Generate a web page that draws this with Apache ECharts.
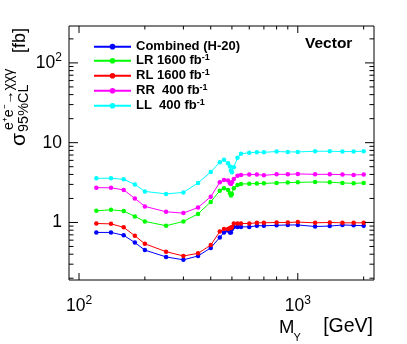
<!DOCTYPE html>
<html>
<head>
<meta charset="utf-8">
<script src="https://cdn.jsdelivr.net/npm/echarts@6/dist/echarts.min.js"></script>
<style>
html, body { margin: 0; padding: 0; background: #fff; }
#chart { width: 407px; height: 344px; }
</style>
</head>
<body>
<div id="chart"></div>
<script>
// mass points (GeV)
var masses = [120, 140, 160, 180, 200, 250, 300, 350, 400, 440, 460, 480, 490, 495, 500,
  510, 530, 550, 600, 650, 700, 800, 900, 1000, 1200, 1400, 1600, 1800, 2000];

// 95% CL limits (fb)
var combined = [0.75, 0.75, 0.69, 0.56, 0.45, 0.37, 0.34, 0.38, 0.48, 0.65, 0.75, 0.79, 0.75, 0.75, 0.83,
  0.88, 0.88, 0.88, 0.88, 0.91, 0.91, 0.92, 0.93, 0.93, 0.89, 0.90, 0.93, 0.92, 0.91];
var lr1600 = [1.40, 1.44, 1.39, 1.19, 1.03, 0.91, 1.03, 1.28, 1.81, 2.50, 2.68, 2.56, 2.32, 2.17, 2.27,
  2.68, 2.95, 3.04, 3.05, 3.08, 3.09, 3.13, 3.16, 3.18, 3.22, 3.20, 3.13, 3.09, 3.13];
var rl1600 = [0.97, 0.96, 0.87, 0.68, 0.54, 0.43, 0.38, 0.41, 0.52, 0.77, 0.83, 0.83, 0.85, 0.85, 0.88,
  0.97, 0.97, 0.97, 0.97, 0.99, 0.99, 1.00, 1.00, 1.01, 0.99, 1.00, 0.99, 0.99, 0.99];
var rr400 = [2.73, 2.72, 2.56, 2.00, 1.59, 1.36, 1.31, 1.54, 2.10, 3.19, 3.41, 3.35, 3.09, 3.04, 3.19,
  3.51, 3.86, 3.94, 3.98, 4.00, 3.90, 4.01, 4.01, 4.06, 4.01, 4.01, 3.98, 3.94, 3.98];
var ll400 = [3.58, 3.58, 3.47, 3.00, 2.45, 2.28, 2.38, 3.13, 4.30, 5.68, 6.10, 5.52, 5.02, 4.47, 4.26,
  4.92, 6.46, 7.25, 7.50, 7.60, 7.58, 7.74, 7.66, 7.66, 7.81, 7.81, 7.74, 7.74, 7.81];

var names = ['Combined (H-20)', 'LR 1600 fb^-1', 'RL 1600 fb^-1', 'RR  400 fb^-1', 'LL  400 fb^-1'];
var colors = ['#0000ff', '#00ff00', '#ff0000', '#ff00ff', '#00ffff'];

// axis ranges and ticks
var X_MIN = 90, X_MAX = 2230;
var Y_MIN = 0.19, Y_MAX = 290;
var xMajor = [100, 1000];
var xMinor = [200, 300, 400, 500, 600, 700, 800, 900, 2000];
var yMajor = [1, 10, 100];
var yMinor = [0.2, 0.3, 0.4, 0.5, 0.6, 0.7, 0.8, 0.9, 2, 3, 4, 5, 6, 7, 8, 9,
  20, 30, 40, 50, 60, 70, 80, 90, 200];

var FONT = "'Liberation Sans', Arial, Helvetica, sans-serif";

var chart = echarts.init(document.getElementById('chart'));

function pairs(ys) {
  return masses.map(function (m, i) { return [m, ys[i]]; });
}

// 10^n style labels
function powLabel(v) {
  var e = Math.round(Math.log(v) / Math.LN10);
  if (Math.abs(v - Math.pow(10, e)) > 1e-6 * v) return '';
  if (e === 0) return '{n|1}';
  if (e === 1) return '{n|10}';
  return '{n|10}{p|' + e + '}';
}
var powRich = {
  n: { fontFamily: FONT, fontSize: 17.5, lineHeight: 20, color: '#000' },
  p: { fontFamily: FONT, fontSize: 12, lineHeight: 12, color: '#000', padding: [0, 0, 10, 0] }
};

// ticks on all four sides, like the ROOT frame
function xTicks(vals, len) {
  return {
    type: 'custom', silent: true, clip: false, z: 5,
    data: vals.map(function (v) { return [v, Y_MIN]; }),
    renderItem: function (params, api) {
      var b = api.coord([api.value(0), Y_MIN]);
      var t = api.coord([api.value(0), Y_MAX]);
      return { type: 'group', children: [
        { type: 'line', shape: { x1: b[0], y1: b[1], x2: b[0], y2: b[1] - len }, style: { stroke: '#000', lineWidth: 1 } },
        { type: 'line', shape: { x1: t[0], y1: t[1], x2: t[0], y2: t[1] + len }, style: { stroke: '#000', lineWidth: 1 } }
      ] };
    }
  };
}
function yTicks(vals, len) {
  return {
    type: 'custom', silent: true, clip: false, z: 5,
    data: vals.map(function (v) { return [X_MIN, v]; }),
    renderItem: function (params, api) {
      var l = api.coord([X_MIN, api.value(1)]);
      var r = api.coord([X_MAX, api.value(1)]);
      return { type: 'group', children: [
        { type: 'line', shape: { x1: l[0], y1: l[1], x2: l[0] + len, y2: l[1] }, style: { stroke: '#000', lineWidth: 1 } },
        { type: 'line', shape: { x1: r[0], y1: r[1], x2: r[0] - len, y2: r[1] }, style: { stroke: '#000', lineWidth: 1 } }
      ] };
    }
  };
}

var allData = [combined, lr1600, rl1600, rr400, ll400];
var series = allData.map(function (d, i) {
  return {
    name: names[i],
    type: 'line',
    data: pairs(d),
    symbol: 'circle',
    symbolSize: 4.5,
    color: colors[i],
    lineStyle: { width: 1 },
    z: 3
  };
});
series.push(xTicks(xMajor, 7), xTicks(xMinor, 3.5), yTicks(yMajor, 9), yTicks(yMinor, 4.5));

var option = {
  animation: false,
  backgroundColor: '#fff',
  grid: { left: 69, right: 33, top: 26, bottom: 64, show: true, borderColor: '#000', borderWidth: 1, backgroundColor: 'transparent' },
  xAxis: {
    type: 'log', logBase: 10, min: X_MIN, max: X_MAX,
    axisLine: { show: false }, axisTick: { show: false }, splitLine: { show: false },
    axisLabel: { formatter: powLabel, rich: powRich, margin: 16 }
  },
  yAxis: {
    type: 'log', logBase: 10, min: Y_MIN, max: Y_MAX,
    axisLine: { show: false }, axisTick: { show: false }, splitLine: { show: false },
    axisLabel: { formatter: powLabel, rich: powRich, margin: 7 }
  },
  legend: {
    data: names,
    orient: 'vertical',
    left: 88, top: 35,
    itemWidth: 37, itemHeight: 7, itemGap: 0,
    textStyle: {
      fontFamily: FONT, fontWeight: 'bold', fontSize: 13, color: '#000', lineHeight: 13.3,
      rich: {
        t: { fontFamily: FONT, fontWeight: 'bold', fontSize: 13, lineHeight: 13.3, color: '#000' },
        p: { fontFamily: FONT, fontWeight: 'bold', fontSize: 9, lineHeight: 7, color: '#000', padding: [0, 0, 6, 0] }
      }
    },
    formatter: function (name) {
      var parts = name.split('^');
      return '{t|' + parts[0] + '}' + (parts[1] ? '{p|' + parts[1] + '}' : '');
    }
  },
  graphic: [
    { type: 'text', left: 305, top: 36, style: { text: 'Vector', font: 'bold 15.5px ' + FONT, fill: '#000' } },
    // x title  M_Y  [GeV]
    { type: 'text', x: 373, y: 337, style: { text: '[GeV]', font: '19.5px ' + FONT, fill: '#000', align: 'right', verticalAlign: 'bottom' } },
    { type: 'text', x: 279, y: 337, style: { text: 'M', font: '18.5px ' + FONT, fill: '#000', align: 'left', verticalAlign: 'bottom' } },
    { type: 'text', x: 293.5, y: 343.5, style: { text: 'Y', font: '11px ' + FONT, fill: '#000', align: 'left', verticalAlign: 'bottom' } },
    // y title, rotated
    {
      type: 'group', x: 25, y: 146, rotation: Math.PI / 2,
      children: [
        { type: 'text', x: 0, y: 4.4, style: { text: '\u03c3', font: '21px ' + FONT, fill: '#000', align: 'left', verticalAlign: 'bottom' } },
        { type: 'text', x: 16, y: -8.8, style: { text: 'e\u207ae\u207b\u2192\u03c7\u03c7\u03b3', font: '14px ' + FONT, fill: '#000', align: 'left', verticalAlign: 'bottom' } },
        { type: 'text', x: 14, y: 6.3, style: { text: '95%CL', font: '14.5px ' + FONT, fill: '#000', align: 'left', verticalAlign: 'bottom' } },
        { type: 'text', x: 93, y: 3.8, style: { text: '[fb]', font: '18px ' + FONT, fill: '#000', align: 'left', verticalAlign: 'bottom' } }
      ]
    }
  ],
  series: series
};

chart.setOption(option);
</script>
</body>
</html>
